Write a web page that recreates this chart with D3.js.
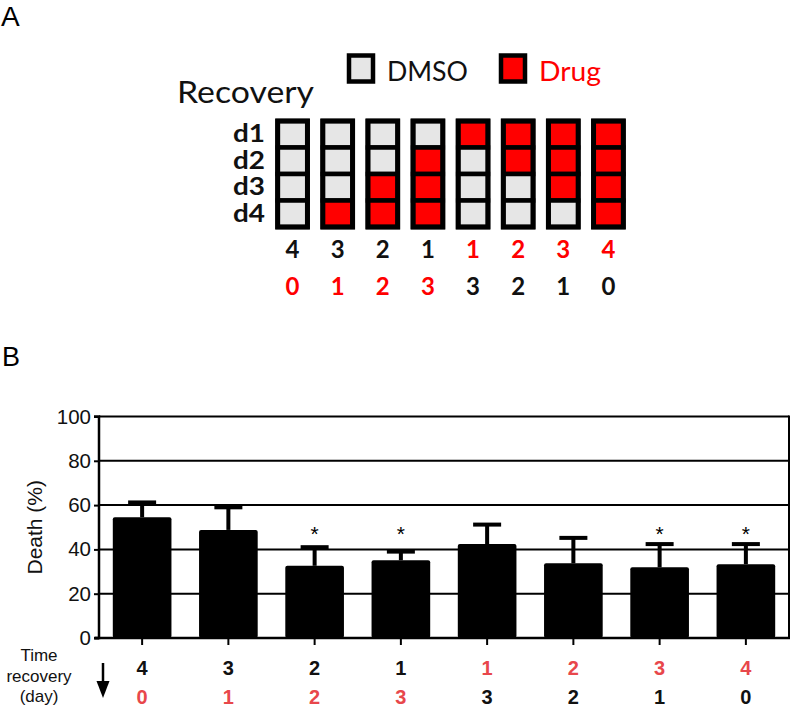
<!DOCTYPE html>
<html><head><meta charset="utf-8">
<script src="https://cdn.jsdelivr.net/npm/d3@7"></script>
<style>body{margin:0;background:#fff}svg{display:block}</style>
</head><body>
<svg id="c" width="792" height="708"></svg>
<script>
// ---------- data ----------
const groups = ["g1","g2","g3","g4","g5","g6","g7","g8"];
const dmsoDays = [4,3,2,1,1,2,3,4];
const drugDays = [0,1,2,3,3,2,1,0];
const dmsoFirst = [true,true,true,true,false,false,false,false]; // top number row black for first four
const dayRows = ["d1","d2","d3","d4"];
// 1 = drug, 0 = DMSO  (rows d1..d4 for each group)
const schedule = [
  [0,0,0,0],[0,0,0,1],[0,0,1,1],[0,1,1,1],
  [1,0,0,0],[1,1,0,0],[1,1,1,0],[1,1,1,1]
];
const deathMean = [54.5,48.8,32.6,35.1,42.4,33.7,31.9,33.3];
const deathErr  = [61.2,59.0,41.0,39.0,51.2,45.2,42.4,42.4];
const significant = [false,false,true,true,false,false,true,true];
const yTicks = [0,20,40,60,80,100];
const timeLabel = ["Time","recovery","(day)"];

const svg = d3.select("#c");
const RED = "#ff0000", GREY = "#e6e6e6", BRED = "#e8474b";
const fA = "Lato, 'Open Sans', sans-serif";
const fB = "'Liberation Sans', Arial, sans-serif";

// ---------- Panel A ----------
svg.append("text").attr("x",1).attr("y",26).attr("font-family",fB).attr("font-size",28).text("A");
svg.append("text").attr("x",177).attr("y",103).attr("font-family",fA).attr("font-size",30)
  .attr("textLength",137).attr("lengthAdjust","spacingAndGlyphs").attr("fill","#111").text("Recovery");

// legend
const leg = [{label:"DMSO", fill:GREY, tc:"#111", x:347, w:81},{label:"Drug", fill:RED, tc:RED, x:499, w:62}];
leg.forEach(l=>{
  svg.append("rect").attr("x",l.x+2).attr("y",55.5).attr("width",24).attr("height",26)
    .attr("fill",l.fill).attr("stroke","#000").attr("stroke-width",4.5);
  svg.append("text").attr("x",l.x+40).attr("y",81).attr("font-family",fA).attr("font-size",26)
    .attr("textLength",l.w).attr("lengthAdjust","spacingAndGlyphs")
    .attr("fill",l.tc).text(l.label);
});

const xA = d3.scaleBand().domain(groups).range([270,631]).paddingInner(0.34).paddingOuter(0.17);
const yA = d3.scaleBand().domain(dayRows).range([121,227]);
const colW = xA.bandwidth();

groups.forEach((g,i)=>{
  const gx = xA(g);
  const col = svg.append("g");
  dayRows.forEach((r,j)=>{
    col.append("rect").attr("x",gx).attr("y",yA(r)).attr("width",colW).attr("height",yA.bandwidth())
      .attr("fill", schedule[i][j] ? RED : GREY).attr("stroke","#000").attr("stroke-width",4.5);
  });
  col.append("rect").attr("x",gx).attr("y",yA.range()[0]).attr("width",colW)
    .attr("height",yA.range()[1]-yA.range()[0]).attr("fill","none").attr("stroke","#000").attr("stroke-width",5);
  const cx = gx + colW/2;
  svg.append("text").attr("x",cx).attr("y",258).attr("text-anchor","middle").attr("font-family",fA)
    .attr("font-weight","bold").attr("font-size",24).attr("fill",dmsoFirst[i]?"#111":RED).text(dmsoDays[i]);
  svg.append("text").attr("x",cx).attr("y",295).attr("text-anchor","middle").attr("font-family",fA)
    .attr("font-weight","bold").attr("font-size",24).attr("fill",dmsoFirst[i]?RED:"#111").text(drugDays[i]);
});
dayRows.forEach(r=>{
  svg.append("text").attr("x",265).attr("y",yA(r)+yA.bandwidth()/2+8).attr("text-anchor","end")
    .attr("font-family",fA).attr("font-weight","bold").attr("font-size",24)
    .attr("textLength",32).attr("lengthAdjust","spacingAndGlyphs").attr("fill","#111").text(r);
});

// ---------- Panel B ----------
svg.append("text").attr("x",2).attr("y",366).attr("font-family",fB).attr("font-size",27).text("B");

const L = 99, R = 789, T = 416.5, B = 638;
const x = d3.scaleBand().domain(groups).range([L,R]).paddingInner(0.32).paddingOuter(0.16);
const y = d3.scaleLinear().domain([0,100]).range([B,T]);

// gridlines
svg.append("g").selectAll("line").data(yTicks.filter(d=>d>0)).join("line")
  .attr("x1",L).attr("x2",R).attr("y1",d=>y(d)).attr("y2",d=>y(d)).attr("stroke","#000").attr("stroke-width",2);
svg.append("line").attr("x1",R).attr("x2",R).attr("y1",T-1).attr("y2",B).attr("stroke","#000").attr("stroke-width",2);

// error bars
const bw = x.bandwidth();
groups.forEach((g,i)=>{
  const cx = x(g)+bw/2;
  svg.append("rect").attr("x",cx-2).attr("y",y(deathErr[i])).attr("width",4)
    .attr("height",y(deathMean[i])-y(deathErr[i])).attr("fill","#000");
  svg.append("rect").attr("x",cx-14).attr("y",y(deathErr[i])-2).attr("width",28).attr("height",4).attr("fill","#000");
});
// bars
svg.append("g").selectAll("rect").data(groups).join("rect")
  .attr("x",g=>x(g)).attr("y",(g,i)=>y(deathMean[i])).attr("width",bw)
  .attr("height",(g,i)=>B-y(deathMean[i])).attr("rx",2).attr("fill","#000");
// stars
svg.append("g").selectAll("text").data(groups.filter((g,i)=>significant[i])).join("text")
  .attr("x",g=>x(g)+bw/2).attr("y",541).attr("text-anchor","middle").attr("font-family",fB)
  .attr("font-size",21).text("*");

// axes
const yAxis = d3.axisLeft(y).tickValues(yTicks).tickSize(5).tickPadding(3);
const ga = svg.append("g").attr("transform",`translate(${L},0)`).call(yAxis);
ga.select(".domain").attr("stroke-width",2.5).attr("d",`M-5,${T}H0V${B}H-5`);
ga.selectAll(".tick line").attr("stroke-width",2);
ga.selectAll(".tick text").attr("font-family",fB).attr("font-size",20.5).attr("fill","#111");

const xAxis = d3.axisBottom(x).tickSize(7).tickFormat("");
const gx = svg.append("g").attr("transform",`translate(0,${B})`).call(xAxis);
gx.select(".domain").attr("stroke-width",2.5).attr("d",`M${L-4},0H${R+1}`);
gx.selectAll(".tick line").attr("stroke-width",2);

svg.append("text").attr("transform",`translate(42,${(T+B)/2}) rotate(-90)`).attr("text-anchor","middle")
  .attr("font-family",fB).attr("font-size",21).attr("fill","#111").text("Death (%)");

// time recovery labels
const tY = [661,682,702];
timeLabel.forEach((t,k)=>{
  svg.append("text").attr("x",39).attr("y",tY[k]).attr("text-anchor","middle").attr("font-family",fB)
    .attr("font-size",17).attr("fill","#111").text(t);
});
svg.append("line").attr("x1",103).attr("x2",103).attr("y1",663).attr("y2",683).attr("stroke","#000").attr("stroke-width",2.5);
svg.append("path").attr("d","M96.5,681 L109.5,681 L103,698 Z").attr("fill","#000");

groups.forEach((g,i)=>{
  const cx = x(g)+bw/2;
  svg.append("text").attr("x",cx).attr("y",675).attr("text-anchor","middle").attr("font-family",fB)
    .attr("font-weight","bold").attr("font-size",20).attr("fill",dmsoFirst[i]?"#111":BRED).text(dmsoDays[i]);
  svg.append("text").attr("x",cx).attr("y",704).attr("text-anchor","middle").attr("font-family",fB)
    .attr("font-weight","bold").attr("font-size",20).attr("fill",dmsoFirst[i]?BRED:"#111").text(drugDays[i]);
});
</script>
</body></html>
